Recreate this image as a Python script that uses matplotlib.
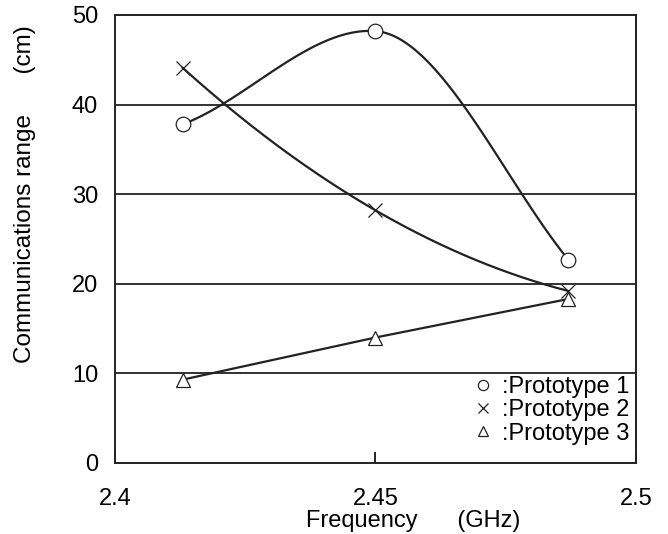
import matplotlib
matplotlib.use('Agg')
import matplotlib.pyplot as plt
import numpy as np

plt.rcParams['font.family'] = ['Liberation Sans', 'DejaVu Sans']

freq = [2.413, 2.450, 2.487]
proto1 = [37.8, 48.2, 22.7]
proto2 = [44.1, 28.2, 19.2]
proto3 = [9.3, 14.0, 18.3]
labels = [':Prototype 1', ':Prototype 2', ':Prototype 3']

# tangent slopes (value change per point step) used for the smoothed curve of prototype 1
slopes1 = [8.0, -1.5, -26.5]


def hermite(x, y, m, n=60):
    xs, ys = [], []
    for i in range(len(x) - 1):
        t = np.linspace(0, 1, n)
        h00 = 2 * t**3 - 3 * t**2 + 1
        h10 = t**3 - 2 * t**2 + t
        h01 = -2 * t**3 + 3 * t**2
        h11 = t**3 - t**2
        xs.append(x[i] + t * (x[i + 1] - x[i]))
        ys.append(h00 * y[i] + h10 * m[i] + h01 * y[i + 1] + h11 * m[i + 1])
    return np.concatenate(xs), np.concatenate(ys)


fig = plt.figure(figsize=(6.68, 5.34), dpi=100)
ax = fig.add_axes([0.172, 0.133, 0.780, 0.839])

hx, hy = hermite(freq, proto1, slopes1)
ax.plot(hx, hy, color='#222222', lw=1.6)
xs = np.linspace(freq[0], freq[-1], 200)
ax.plot(xs, np.polyval(np.polyfit(freq, proto2, 2), xs), color='#222222', lw=1.6)
ax.plot(freq, proto3, color='#222222', lw=1.6)

m1, = ax.plot(freq, proto1, 'o', ms=10.5, mfc='white', mec='#222222', mew=0.9, ls='none')
m2, = ax.plot(freq, proto2, 'x', ms=10, mec='#222222', mew=0.9, ls='none')
m3, = ax.plot(freq, proto3, '^', ms=10, mfc='white', mec='#222222', mew=0.9, ls='none')

for g in [10, 20, 30, 40]:
    ax.axhline(g, color='#222222', lw=1.3, zorder=0)

ax.set_xlim(2.4, 2.5)
ax.set_ylim(0, 50)
ax.set_xticks([2.4, 2.45, 2.5])
ax.set_xticklabels(['2.4', '2.45', '2.5'])
ax.set_yticks([0, 10, 20, 30, 40, 50])
ax.tick_params(axis='x', direction='in', length=8, width=1.2, pad=18, labelsize=17)
ax.tick_params(axis='y', length=0, pad=12, labelsize=17)
for s in ax.spines.values():
    s.set_linewidth(1.4)
    s.set_color('#222222')

ax.set_xlabel('Frequency      (GHz)', fontsize=17)
ax.xaxis.set_label_coords(0.573, -0.104)
ax.set_ylabel('Communications range      (cm)', fontsize=17.5)
ax.yaxis.set_label_coords(-0.152, 0.6)

ax.legend([m1, m2, m3], labels, loc='lower right', frameon=False, fontsize=17,
          handlelength=1.0, handletextpad=0.3, labelspacing=0.05,
          markerscale=0.7, borderaxespad=0, bbox_to_anchor=(1.005, 0.02))

plt.savefig('out.png', dpi=100)
